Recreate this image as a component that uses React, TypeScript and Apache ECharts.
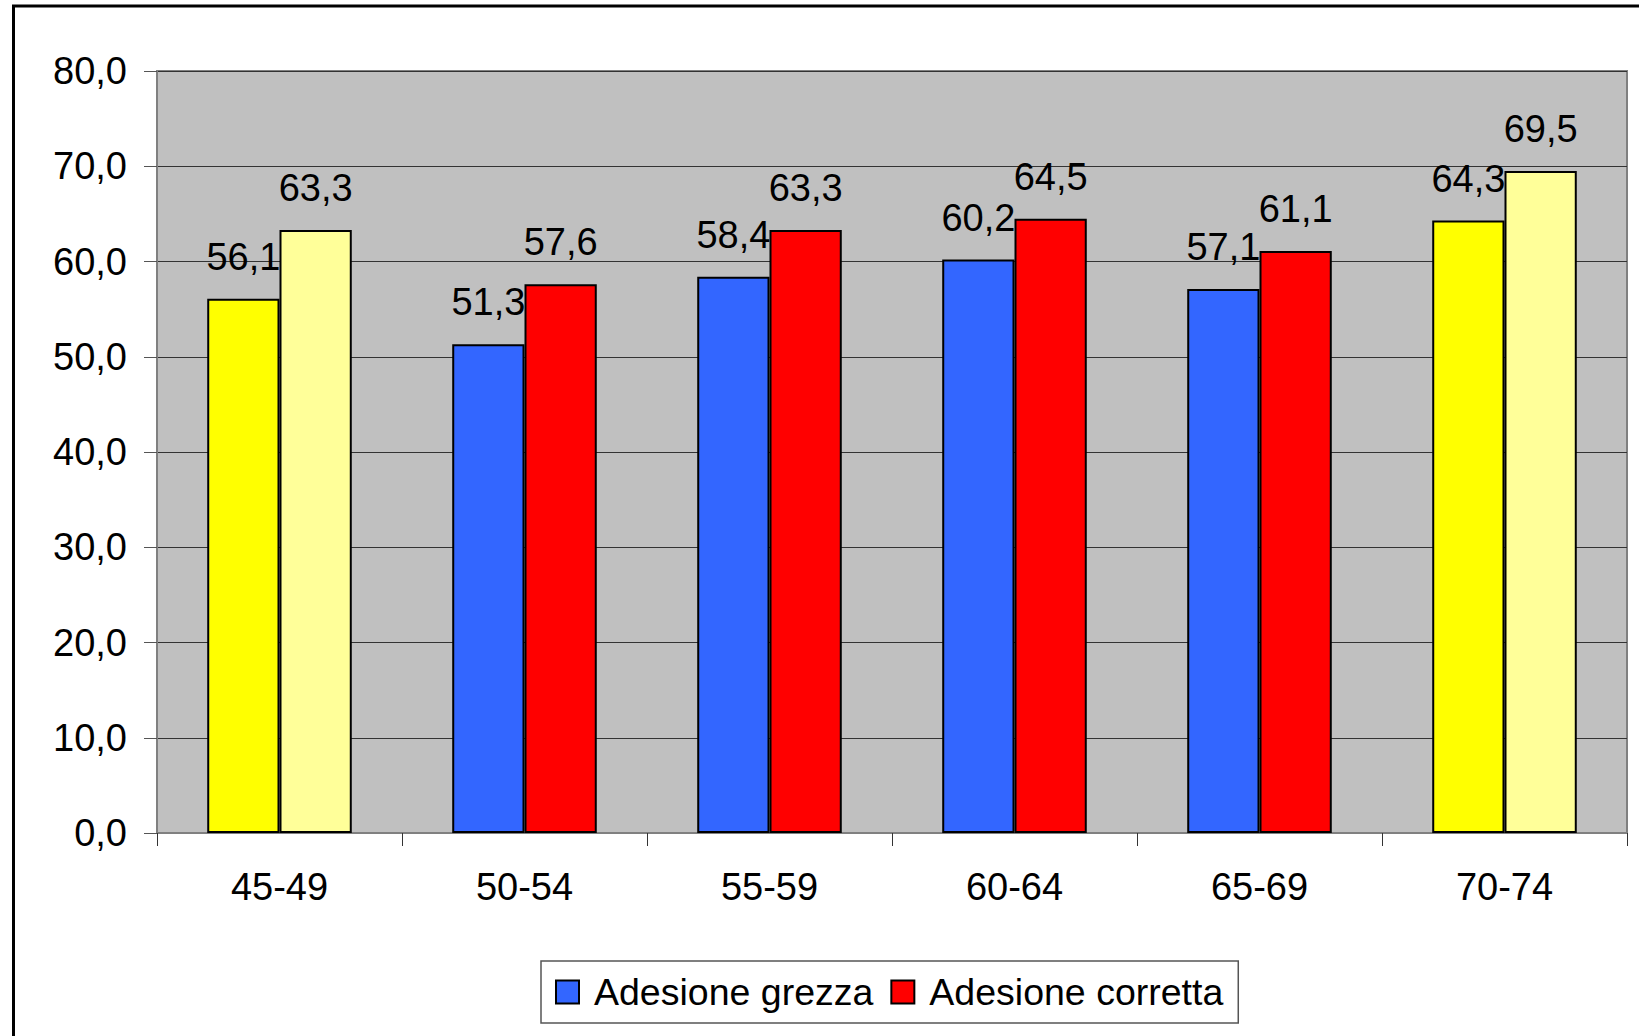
import { useEffect, useRef } from "react";
import * as echarts from "echarts";

// Age groups on the x axis
const categories = ["45-49", "50-54", "55-59", "60-64", "65-69", "70-74"];
// Crude adherence (%)
const adesioneGrezza = [56.1, 51.3, 58.4, 60.2, 57.1, 64.3];
// Corrected adherence (%)
const adesioneCorretta = [63.3, 57.6, 63.3, 64.5, 61.1, 69.5];
// Age groups whose bars are drawn in yellow tones
const evidenziate = ["45-49", "70-74"];
const seriesNames = ["Adesione grezza", "Adesione corretta"];

const FONT = '"Liberation Sans", Arial, sans-serif';
const BLUE = "#3366FF";
const RED = "#FF0000";
const YELLOW = "#FFFF00";
const LIGHT_YELLOW = "#FFFF99";

const fmt = (v: number) => v.toFixed(1).replace(".", ",");

function buildData(values: number[], highlight: string) {
  return values.map((v, i) =>
    evidenziate.includes(categories[i])
      ? { value: v, itemStyle: { color: highlight } }
      : { value: v }
  );
}

export default function App() {
  const ref = useRef<HTMLDivElement>(null);

  useEffect(() => {
    if (!ref.current) return;
    const chart = echarts.init(ref.current, undefined, { renderer: "svg" });

    const barLabel = {
      show: true,
      position: "top",
      distance: 23,
      fontSize: 38,
      fontFamily: FONT,
      color: "#000",
      formatter: (p: any) => fmt(p.value),
    };

    chart.setOption({
      animation: false,
      backgroundColor: "#fff",
      grid: {
        left: 157,
        right: 12,
        top: 71,
        bottom: 203,
        show: true,
        backgroundColor: "#C0C0C0",
        borderColor: "#808080",
        borderWidth: 2,
      },
      legend: {
        data: seriesNames,
        left: 541,
        top: 961,
        orient: "horizontal",
        icon: "rect",
        itemWidth: 23,
        itemHeight: 23,
        itemGap: 17,
        padding: [12, 15, 12, 14],
        backgroundColor: "#fff",
        borderColor: "#555",
        borderWidth: 1.5,
        borderRadius: 0,
        selectedMode: false,
        itemStyle: { borderColor: "#000", borderWidth: 2 },
        textStyle: {
          fontSize: 37.5,
          fontFamily: FONT,
          color: "#000",
          padding: [0, 0, 6, 10],
        },
      },
      xAxis: {
        type: "category",
        data: categories,
        axisLine: { show: true, lineStyle: { color: "#808080", width: 2 } },
        axisTick: { show: true, length: 13, lineStyle: { color: "#333", width: 1 } },
        axisLabel: { fontSize: 38, fontFamily: FONT, color: "#000", margin: 35 },
      },
      yAxis: {
        type: "value",
        min: 0,
        max: 80,
        interval: 10,
        axisLine: { show: true, lineStyle: { color: "#808080", width: 1 } },
        axisTick: { show: true, length: 13, lineStyle: { color: "#555", width: 1 } },
        splitLine: { show: true, lineStyle: { color: "#333", width: 1 } },
        axisLabel: {
          fontSize: 38,
          fontFamily: FONT,
          color: "#000",
          margin: 30,
          formatter: (v: number) => fmt(v),
        },
      },
      series: [
        {
          name: seriesNames[0],
          type: "bar",
          z: 2,
          barGap: "0%",
          barCategoryGap: "41%",
          itemStyle: { color: BLUE, borderColor: "#000", borderWidth: 2 },
          label: barLabel,
          data: buildData(adesioneGrezza, YELLOW),
        },
        {
          name: seriesNames[1],
          type: "bar",
          z: 3,
          barGap: "0%",
          barCategoryGap: "41%",
          itemStyle: { color: RED, borderColor: "#000", borderWidth: 2 },
          label: barLabel,
          data: buildData(adesioneCorretta, LIGHT_YELLOW),
        },
      ],
      graphic: [
        // outer frame around the whole chart
        {
          type: "rect",
          shape: { x: 13.5, y: 6, width: 2000, height: 2000 },
          style: { fill: "none", stroke: "#000", lineWidth: 3 },
          silent: true,
        },
      ],
    });

    return () => chart.dispose();
  }, []);

  return (
    <div
      ref={ref}
      style={{ position: "absolute", left: 0, top: 0, width: 1639, height: 1036, background: "#fff" }}
    />
  );
}
